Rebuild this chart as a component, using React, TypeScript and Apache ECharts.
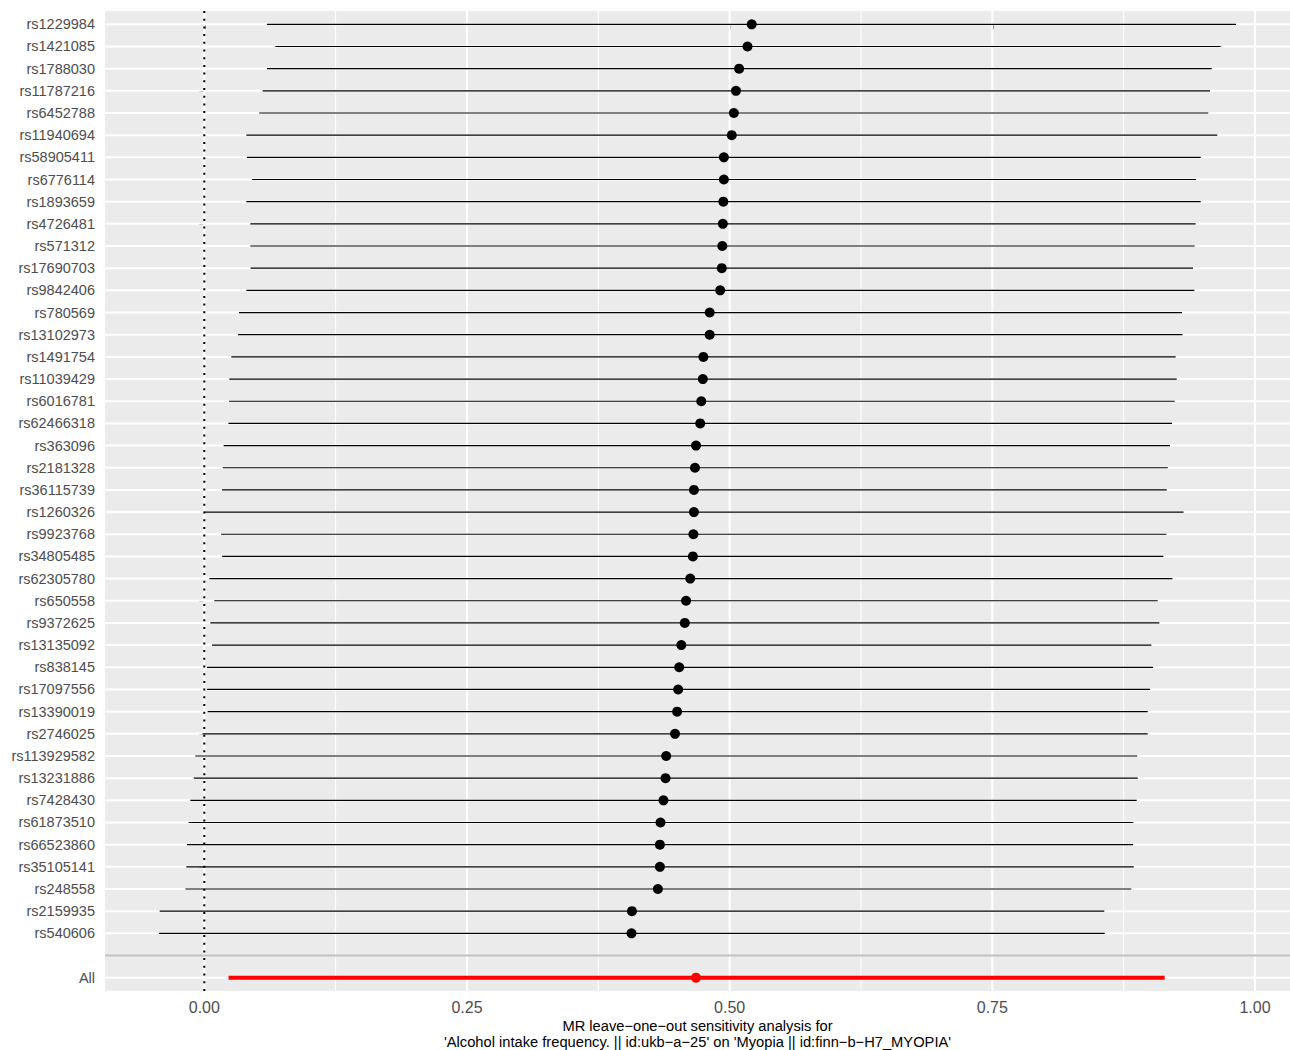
import React, { useEffect, useRef } from "react";
import * as echarts from "echarts";

const snps = [
  "rs1229984", "rs1421085", "rs1788030", "rs11787216", "rs6452788", "rs11940694",
  "rs58905411", "rs6776114", "rs1893659", "rs4726481", "rs571312", "rs17690703",
  "rs9842406", "rs780569", "rs13102973", "rs1491754", "rs11039429", "rs6016781",
  "rs62466318", "rs363096", "rs2181328", "rs36115739", "rs1260326", "rs9923768",
  "rs34805485", "rs62305780", "rs650558", "rs9372625", "rs13135092", "rs838145",
  "rs17097556", "rs13390019", "rs2746025", "rs113929582", "rs13231886", "rs7428430",
  "rs61873510", "rs66523860", "rs35105141", "rs248558", "rs2159935", "rs540606",
];
const snpB = [
  0.521, 0.517, 0.509, 0.506, 0.504, 0.502, 0.4945, 0.4945, 0.494, 0.4935, 0.493, 0.4925,
  0.491, 0.481, 0.481, 0.475, 0.4745, 0.473, 0.472, 0.468, 0.467, 0.466, 0.466, 0.4655,
  0.465, 0.4625, 0.4585, 0.4573, 0.454, 0.452, 0.451, 0.450, 0.448, 0.4396, 0.439, 0.437,
  0.4342, 0.4336, 0.4336, 0.4317, 0.407, 0.4066,
];
const snpLo = [
  0.0596, 0.0676, 0.0596, 0.0555, 0.0523, 0.040, 0.0406, 0.0454, 0.040, 0.0438, 0.0438, 0.044,
  0.040, 0.033, 0.032, 0.0257, 0.0238, 0.0235, 0.023, 0.0184, 0.0175, 0.0168, 0.0, 0.016,
  0.017, 0.0048, 0.0095, 0.0057, 0.0073, 0.0025, 0.0025, 0.0032, -0.0016, -0.0086, -0.010, -0.0133,
  -0.0149, -0.0165, -0.0171, -0.018, -0.0425, -0.043,
];
const snpHi = [
  0.982, 0.9673, 0.9588, 0.9572, 0.9556, 0.9641, 0.9483, 0.9439, 0.9483, 0.9435, 0.9426, 0.941,
  0.9423, 0.9305, 0.931, 0.9245, 0.9255, 0.9236, 0.921, 0.919, 0.917, 0.916, 0.932, 0.9157,
  0.9128, 0.9214, 0.9074, 0.909, 0.9014, 0.903, 0.900, 0.8979, 0.8979, 0.888, 0.8884, 0.8874,
  0.8842, 0.884, 0.8846, 0.8823, 0.8566, 0.857,
];
const allLabel = "All";
const allB = 0.468;
const allLo = 0.0231;
const allHi = 0.914;

const rowLabels = [...snps, "", allLabel];
const majorTicks = [0, 0.25, 0.5, 0.75, 1.0];
const minorTicks = [0.125, 0.375, 0.625, 0.875];
const xTitleLine1 = "MR leave\u2212one\u2212out sensitivity analysis for";
const xTitleLine2 =
  "'Alcohol intake frequency. || id:ukb\u2212a\u221225' on 'Myopia || id:finn\u2212b\u2212H7_MYOPIA'";

export default function App() {
  const ref = useRef<HTMLDivElement>(null);
  useEffect(() => {
    if (!ref.current) return;
    const chart = echarts.init(ref.current, null, { renderer: "svg" });
    const blankIdx = snps.length;
    const allIdx = snps.length + 1;
    const rowIdx = rowLabels.map((_, i) => i);

    const gridData: number[][] = [
      ...minorTicks.map((v) => [1, v]),
      ...majorTicks.map((v) => [0, v]),
      ...rowIdx.map((i) => [2, i]),
    ];

    const ciData = [
      ...snps.map((_, i) => [snpLo[i], snpHi[i], i, 0]),
      [allLo, allHi, allIdx, 1],
    ];

    const font = "'Liberation Sans', Arial, Helvetica, sans-serif";
    const panelLeft = 105;
    const panelRight = 1290;
    const titleX = (panelLeft + panelRight) / 2;

    chart.setOption({
      animation: false,
      backgroundColor: "#ffffff",
      grid: {
        left: panelLeft,
        right: 0,
        top: 11,
        bottom: 59,
        show: true,
        backgroundColor: "#EBEBEB",
        borderWidth: 0,
        containLabel: false,
        outerBoundsMode: "none",
      },
      graphic: [
        {
          type: "text",
          x: titleX,
          y: 1026,
          silent: true,
          style: {
            text: xTitleLine1,
            fill: "#000000",
            font: `14.7px ${font}`,
            textAlign: "center",
            textVerticalAlign: "middle",
          },
        },
        {
          type: "text",
          x: titleX,
          y: 1042,
          silent: true,
          style: {
            text: xTitleLine2,
            fill: "#000000",
            font: `14.7px ${font}`,
            textAlign: "center",
            textVerticalAlign: "middle",
          },
        },
      ],
      xAxis: {
        type: "value",
        min: -0.0945,
        max: 1.0333,
        axisLine: { show: false },
        splitLine: { show: false },
        axisTick: {
          show: true,
          customValues: majorTicks,
          length: 5,
          lineStyle: { color: "#333333", width: 1.5 },
        },
        axisLabel: {
          customValues: majorTicks,
          formatter: (v: number) => v.toFixed(2),
          color: "#4D4D4D",
          fontSize: 16,
          fontFamily: font,
          margin: 8,
        },
      },
      yAxis: {
        type: "value",
        inverse: true,
        min: -0.6,
        max: rowLabels.length - 1 + 0.6,
        axisLine: { show: false },
        splitLine: { show: false },
        axisTick: {
          show: true,
          customValues: rowIdx,
          length: 5,
          lineStyle: { color: "#333333", width: 1 },
        },
        axisLabel: {
          customValues: rowIdx,
          formatter: (v: number) => rowLabels[Math.round(v)] ?? "",
          color: "#4D4D4D",
          fontSize: 14.5,
          fontFamily: font,
          margin: 10,
        },
      },
      series: [
        {
          type: "custom",
          name: "grid",
          silent: true,
          z: 1,
          data: gridData,
          renderItem: (params: any, api: any) => {
            const kind = api.value(0);
            const v = api.value(1);
            const cs = params.coordSys;
            if (kind === 2) {
              const p = api.coord([0, v]);
              return {
                type: "line",
                shape: { x1: cs.x, y1: p[1], x2: cs.x + cs.width, y2: p[1] },
                style: { stroke: "#FFFFFF", lineWidth: 2 },
              };
            }
            const p = api.coord([v, 0]);
            return {
              type: "line",
              shape: { x1: p[0], y1: cs.y, x2: p[0], y2: cs.y + cs.height },
              style: { stroke: "#FFFFFF", lineWidth: kind === 0 ? 2 : 1 },
            };
          },
        },
        {
          type: "custom",
          name: "vline",
          silent: true,
          z: 2,
          data: [[0, 0]],
          renderItem: (params: any, api: any) => {
            const cs = params.coordSys;
            const p = api.coord([api.value(0), 0]);
            return {
              type: "line",
              shape: { x1: p[0], y1: cs.y, x2: p[0], y2: cs.y + cs.height },
              style: { stroke: "#000000", lineWidth: 2, lineDash: [2, 5.7] },
            };
          },
        },
        {
          type: "custom",
          name: "ci",
          silent: true,
          z: 3,
          data: ciData,
          renderItem: (params: any, api: any) => {
            const lo = api.value(0);
            const hi = api.value(1);
            const y = api.value(2);
            const isAll = api.value(3) === 1;
            const a = api.coord([lo, y]);
            const b = api.coord([hi, y]);
            return {
              type: "line",
              shape: { x1: a[0], y1: a[1], x2: b[0], y2: b[1] },
              style: { stroke: isAll ? "#FF0000" : "#000000", lineWidth: isAll ? 4 : 1.2 },
            };
          },
        },
        {
          type: "scatter",
          name: "est",
          silent: true,
          z: 4,
          symbol: "circle",
          symbolSize: 10,
          data: [
            ...snpB.map((v, i) => ({ value: [v, i], itemStyle: { color: "#000000", opacity: 1 } })),
            { value: [allB, allIdx], itemStyle: { color: "#FF0000", opacity: 1 } },
          ],
        },
        {
          type: "custom",
          name: "hline",
          silent: true,
          z: 5,
          data: [[blankIdx]],
          renderItem: (params: any, api: any) => {
            const cs = params.coordSys;
            const p = api.coord([0, api.value(0)]);
            return {
              type: "line",
              shape: { x1: cs.x, y1: p[1], x2: cs.x + cs.width, y2: p[1] },
              style: { stroke: "#BEBEBE", lineWidth: 2 },
            };
          },
          encode: { y: 0 },
        },
      ],
    });
    return () => chart.dispose();
  }, []);
  return (
    <div
      ref={ref}
      style={{ position: "fixed", left: 0, top: 0, width: 1290, height: 1050 }}
    />
  );
}
